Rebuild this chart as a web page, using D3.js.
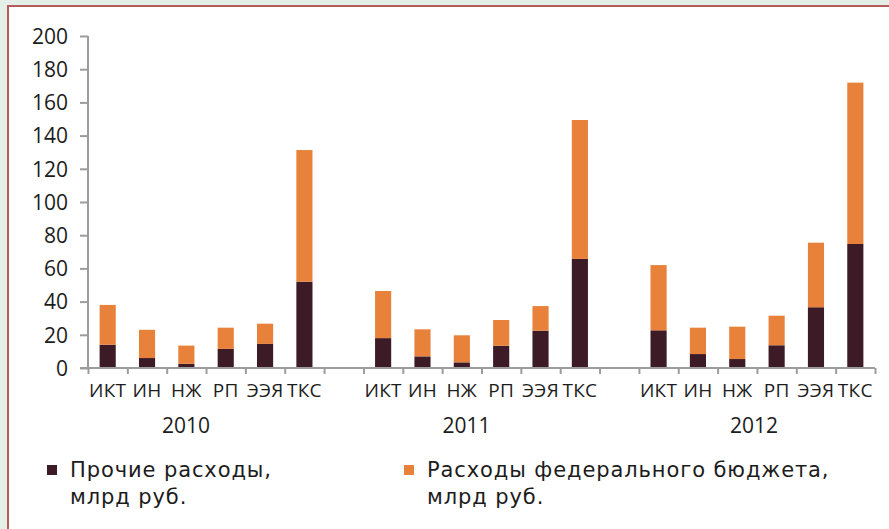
<!DOCTYPE html>
<html><head><meta charset="utf-8">
<script src="https://cdn.jsdelivr.net/npm/d3@7"></script>
<style>
html,body{margin:0;padding:0;background:#e4f0e7;}
svg{display:block;}
text{font-family:"Open Sans",sans-serif;fill:#1c1c1c;}
</style></head>
<body>
<svg id="chart" width="889" height="529"></svg>
<script>
const categories = ["ИКТ","ИН","НЖ","РП","ЭЭЯ","ТКС"];
const years = ["2010","2011","2012"];
// Прочие расходы, млрд руб.
const otherValues = [
  [14, 6, 2.5, 11.5, 14.5, 52],
  [18, 7, 3.4, 13.4, 22.5, 65.7],
  [22.7, 8.4, 5.4, 13.7, 36.6, 74.7]
];
// Расходы федерального бюджета, млрд руб.
const federalValues = [
  [24, 17, 11, 12.8, 12.2, 79.3],
  [28.4, 16.3, 16.3, 15.5, 14.8, 83.7],
  [39.3, 15.9, 19.5, 17.8, 38.9, 97.2]
];
const yTicks = [0,20,40,60,80,100,120,140,160,180,200];
const seriesNames = ["Прочие расходы,\nмлрд руб.", "Расходы федерального бюджета,\nмлрд руб."];

const colors = ["#3d1b26", "#e8813a"];
const svg = d3.select("#chart");
svg.append("rect").attr("x",8).attr("y",6).attr("width",900).attr("height",540)
  .attr("fill","#fff").attr("stroke","#b75a5c").attr("stroke-width",2);

const slotsPerGroup = categories.length + 1;
const nSlots = years.length * slotsPerGroup - 1;
const x = d3.scaleLinear().domain([0, nSlots]).range([88, 875]);
const y = d3.scaleLinear().domain([0, 200]).range([368, 36]);
const slotW = x(1) - x(0);
const barW = slotW * 0.41;

// rows
const rows = [];
years.forEach((yr, g) => categories.forEach((c, i) => {
  rows.push({slot: g*slotsPerGroup + i, cat: c, other: otherValues[g][i], fed: federalValues[g][i]});
}));

// y axis
const yAxis = d3.axisLeft(y).tickValues(yTicks).tickSize(8).tickPadding(12);
const ya = svg.append("g").attr("transform", `translate(${x(0)},0)`).call(yAxis);
ya.selectAll("path,line").attr("stroke","#9c9c9e").attr("stroke-width",2);
ya.select(".domain").attr("d", `M0,${y(200)}V${y(0)}`);
ya.selectAll("text").style("font-size","21px").attr("fill","#1c1c1c").attr("dy","0.35em");

// bars
const stack = d3.stack().keys(["other","fed"])(rows);
svg.append("g").selectAll("g").data(stack).join("g")
  .attr("fill", (d,i) => colors[i])
  .selectAll("rect").data(d => d).join("rect")
  .attr("x", d => x(d.data.slot + 0.5) - barW/2)
  .attr("width", barW)
  .attr("y", d => y(d[1]))
  .attr("height", d => y(d[0]) - y(d[1]));

// x axis
const xAxis = d3.axisBottom(x).tickValues(d3.range(0, nSlots+1)).tickSize(6).tickFormat("");
const xa = svg.append("g").attr("transform", `translate(0,${y(0)})`).call(xAxis);
xa.selectAll("path,line").attr("stroke","#9c9c9e").attr("stroke-width",2);
xa.select(".domain").attr("d", `M${x(0)-8},0H${x(nSlots)}`);

// category labels
svg.append("g").selectAll("text").data(rows).join("text")
  .attr("x", d => x(d.slot + 0.5)).attr("y", 397)
  .attr("text-anchor","middle").style("font-size","19px").style("letter-spacing","0.3px")
  .text(d => d.cat);

// year labels
const yearNudge = [-20, -15, -3];
svg.append("g").selectAll("text").data(years).join("text")
  .attr("x", (d,g) => x(g*slotsPerGroup + categories.length/2) + yearNudge[g])
  .attr("y", 433).attr("text-anchor","middle").style("font-size","21px")
  .text(d => d);

// legend
const legX = [47, 404];
const leg = svg.append("g").selectAll("g").data(seriesNames).join("g")
  .attr("transform", (d,i) => `translate(${legX[i]},0)`);
leg.append("rect").attr("x",0).attr("y",465).attr("width",10).attr("height",10)
  .attr("fill", (d,i) => colors[i]);
leg.each(function(d){
  const g = d3.select(this);
  d.split("\n").forEach((line, k) => {
    g.append("text").attr("x",23).attr("y",477 + k*27)
      .style("font-family","'DejaVu Sans',sans-serif")
      .style("font-size","21px").style("letter-spacing","0.9px").text(line);
  });
});
</script>
</body></html>
